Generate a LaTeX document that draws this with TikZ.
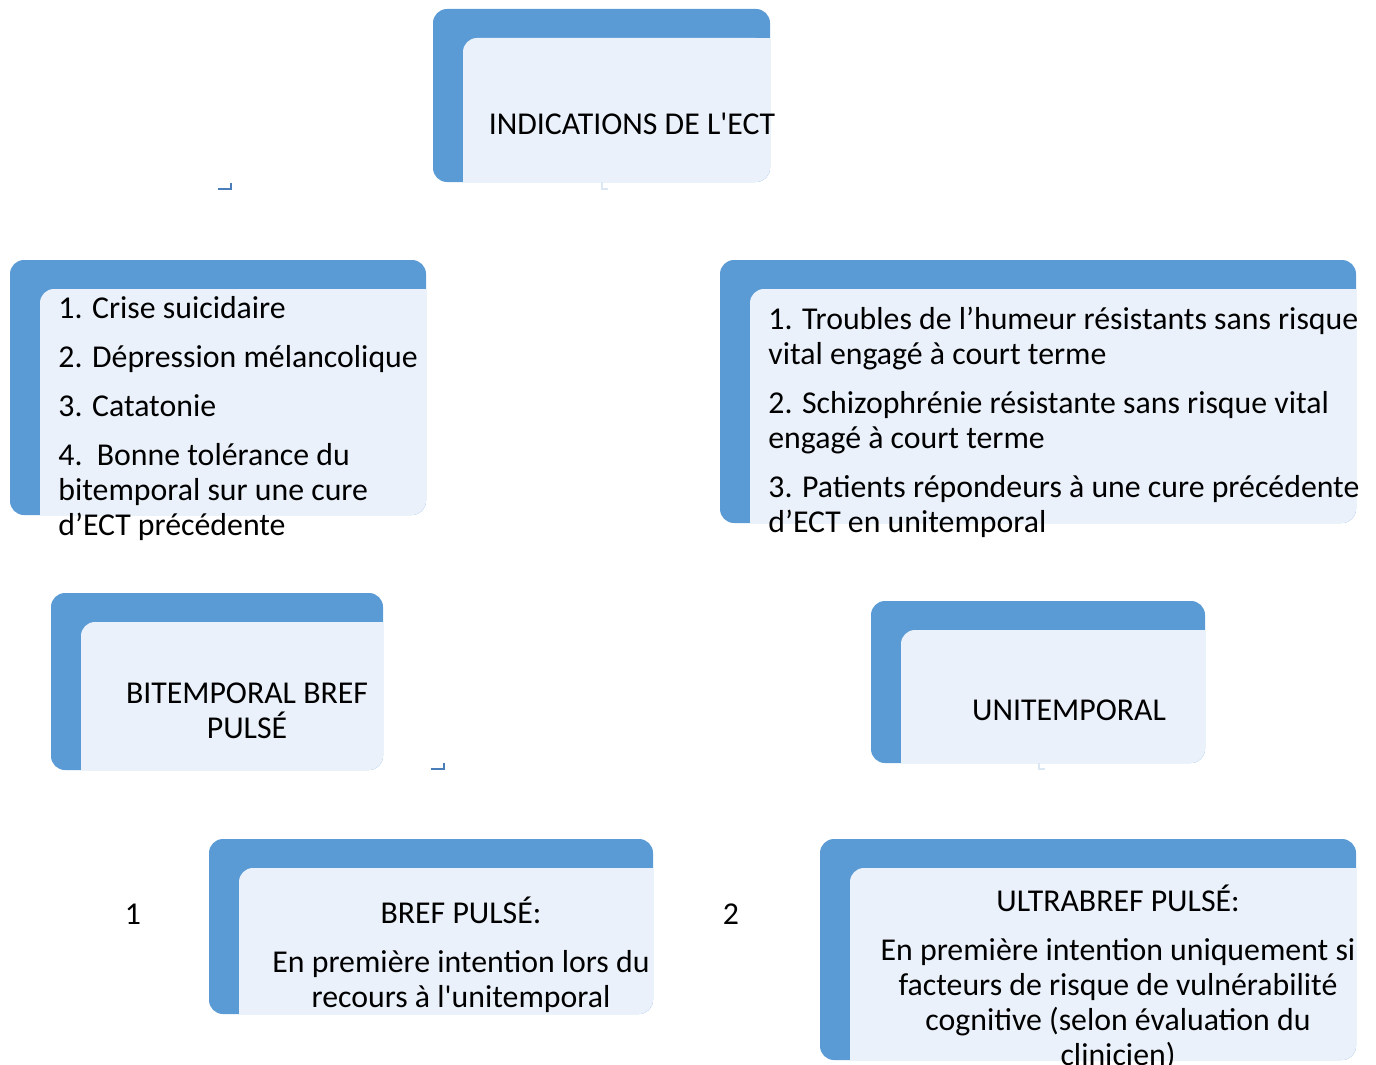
\documentclass[tikz,border=0pt]{standalone}
\usepackage{fontspec}
\setmainfont{Carlito}
\usetikzlibrary{positioning}
\definecolor{ectblue}{HTML}{5B9BD5}
\definecolor{ectlight}{HTML}{EAF1FA}
\definecolor{ectmark}{HTML}{4A7EBB}
\definecolor{ectfaint}{HTML}{DCE7F4}

% blue card with the light panel on it: x1, y1, x2, y2 (pixels)
\newcommand{\ectcard}[4]{%
  \fill[ectblue, rounded corners=7pt] (#1,#2) rectangle (#3,#4);
  \fill[ectlight, rounded corners=7pt] ({#1+30},{#2+29}) rectangle (#3,#4);
  \fill[ectlight] ({#3-16},{#2+29}) rectangle (#3,{#2+45});
  \fill[ectlight] ({#1+30},{#4-16}) rectangle ({#1+46},#4);
}

\begin{document}
\begin{tikzpicture}[x=0.5pt, y=-0.5pt,
    every node/.style={inner sep=0pt},
    txt/.style={font=\fontsize{15.9}{17.5}\selectfont},
    mark line/.style={line width=1.2pt}]
  \useasboundingbox (0,0) rectangle (1376,1065);

  % Cards
  \ectcard{433}{9}{770}{182}
  \ectcard{10}{260}{426}{515}
  \ectcard{720}{260}{1356}{523}
  \ectcard{51}{593}{383}{770}
  \ectcard{871}{601}{1205}{763}
  \ectcard{209}{839}{653}{1014}
  \ectcard{820}{839}{1356}{1060}

  % Small corner marks
  \draw[ectmark, mark line] (218,189) -- (231,189) -- (231,183);
  \draw[ectmark, mark line] (431,769) -- (444,769) -- (444,763);
  \draw[ectfaint, mark line] (602,182) -- (602,189) -- (608,189);
  \draw[ectfaint, mark line] (1039,763) -- (1039,769) -- (1045,769);

  % Texts
  \node[txt] (indic) at (632,124) {INDICATIONS DE L\textquotesingle ECT};
  \node[txt, anchor=north west, align=left] (bilist) at (58,296)
    {1. Crise suicidaire\\[7pt] 2. Dépression mélancolique\\[7pt] 3. Catatonie\\[7pt]
     4.\ \ Bonne tolérance du\\ bitemporal sur une cure\\ d’ECT précédente};
  \node[txt, anchor=north west, align=left] (unilist) at (768,307)
    {1. Troubles de l’humeur résistants sans risque\\ vital engagé à court terme\\[7pt]
     2. Schizophrénie résistante sans risque vital\\ engagé à court terme\\[7pt]
     3. Patients répondeurs à une cure précédente\\ d’ECT en unitemporal};
  \node[txt, anchor=north, align=center] (bitemp) at (247,682) {BITEMPORAL BREF\\ PULSÉ};
  \node[txt] (unitemp) at (1069,710) {UNITEMPORAL};
  \node[txt, anchor=north, align=center] (bref) at (461,897)
    {BREF PULSÉ:\\[7pt] En première intention lors du\\ recours à l\textquotesingle unitemporal};
  \node[txt, anchor=north, align=center] (ultra) at (1118,885)
    {ULTRABREF PULSÉ:\\[7pt] En première intention uniquement si\\ facteurs de risque de vulnérabilité\\
     cognitive (selon évaluation du\\ clinicien)};
  \node[txt] (num1) at (133,914) {1};
  \node[txt] (num2) at (731,914) {2};
\end{tikzpicture}
\end{document}
